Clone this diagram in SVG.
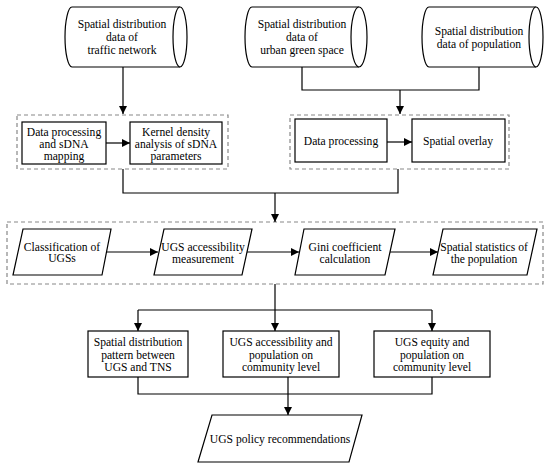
<svg xmlns="http://www.w3.org/2000/svg" width="550" height="470" viewBox="0 0 550 470">
<defs>
<marker id="ah" viewBox="0 0 10 10" refX="10" refY="5" markerWidth="8" markerHeight="8" markerUnits="userSpaceOnUse" orient="auto">
<path d="M0,0 L10,5 L0,10 z" fill="#000"/>
</marker>
<style>
.s{fill:#fff;stroke:#000;stroke-width:1.2}
.d{fill:none;stroke:#888;stroke-width:1.2;stroke-dasharray:4,3}
.c{fill:none;stroke:#000;stroke-width:1.2}
.a{fill:none;stroke:#000;stroke-width:1.2;marker-end:url(#ah)}
text{font-size:11.6px;fill:#000;text-anchor:middle}
</style>
</defs>
<rect width="550" height="470" fill="#fff"/>

<g id="dashed-groups">
<rect class="d" x="17" y="115" width="211" height="54"/>
<rect class="d" x="290" y="115" width="219" height="54"/>
<rect class="d" x="7" y="222" width="536" height="62"/>
</g>

<g id="connectors">
<path class="a" d="M123,67 V114"/>
<path class="c" d="M302,67 V90 H479 V67"/>
<path class="a" d="M400,90 V114"/>
<path class="a" d="M106,143 H130"/>
<path class="a" d="M387,142 H412"/>
<path class="c" d="M123,169 V193 H398 V169"/>
<path class="a" d="M275,193 V222"/>
<path class="a" d="M107,252 H158"/>
<path class="a" d="M247,252 H299"/>
<path class="a" d="M390,252 H438"/>
<path class="c" d="M275,284 V310"/>
<path class="c" d="M138,310 H432"/>
<path class="a" d="M138,310 V331"/>
<path class="a" d="M275,310 V331"/>
<path class="a" d="M432,310 V331"/>
<path class="c" d="M138,377 V394 H432 V377"/>
<path class="a" d="M288,377 V415"/>
</g>

<g font-family="Liberation Serif, Times New Roman, DejaVu Serif, serif">
<g id="cyl-traffic">
<path class="s" d="M180,7 H72 A7,30 0 0 0 72,67 H180"/>
<ellipse class="s" cx="180" cy="37" rx="7" ry="30"/>
<text x="122" y="28">Spatial distribution</text>
<text x="122" y="41">data of</text>
<text x="122" y="54">traffic network</text>
</g>

<g id="cyl-green">
<path class="s" d="M359,7 H252 A7,30 0 0 0 252,67 H359"/>
<ellipse class="s" cx="359" cy="37" rx="8" ry="30"/>
<text x="302" y="28">Spatial distribution</text>
<text x="302" y="41">data of</text>
<text x="302" y="54">urban green space</text>
</g>

<g id="cyl-pop">
<path class="s" d="M536,7 H429 A7,30 0 0 0 429,67 H536"/>
<ellipse class="s" cx="536" cy="37" rx="7" ry="30"/>
<text x="479" y="35">Spatial distribution</text>
<text x="479" y="47.5">data of population</text>
</g>

<g id="box-sdna">
<rect class="s" x="22" y="122" width="84" height="42"/>
<text x="64" y="136">Data processing</text>
<text x="64" y="148">and sDNA</text>
<text x="64" y="160">mapping</text>
</g>

<g id="box-kernel">
<rect class="s" x="130" y="122" width="92" height="42"/>
<text x="176" y="136">Kernel density</text>
<text x="176" y="148">analysis of sDNA</text>
<text x="176" y="160">parameters</text>
</g>

<g id="box-dataproc">
<rect class="s" x="295" y="119" width="92" height="43"/>
<text x="341" y="145">Data processing</text>
</g>

<g id="box-overlay">
<rect class="s" x="412" y="119" width="93" height="43"/>
<text x="458" y="145">Spatial overlay</text>
</g>

<g id="p-class">
<path class="s" d="M23,229 H111 L102,275 H13 z"/>
<text x="62" y="250.5">Classification of</text>
<text x="62" y="262">UGSs</text>
</g>

<g id="p-access">
<path class="s" d="M164,229 H252 L242,275 H154 z"/>
<text x="203" y="250.5">UGS accessibility</text>
<text x="203" y="263">measurement</text>
</g>

<g id="p-gini">
<path class="s" d="M304,229 H395 L385,275 H295 z"/>
<text x="345" y="250.5">Gini coefficient</text>
<text x="345" y="263">calculation</text>
</g>

<g id="p-stats">
<path class="s" d="M443,229 H537 L527,275 H433 z"/>
<text x="484" y="250.5">Spatial statistics of</text>
<text x="484" y="263">the population</text>
</g>

<g id="box-pattern">
<rect class="s" x="88" y="331" width="100" height="46"/>
<text x="138" y="346">Spatial distribution</text>
<text x="138" y="358.5">pattern between</text>
<text x="138" y="371">UGS and TNS</text>
</g>

<g id="box-accpop">
<rect class="s" x="223" y="331" width="116" height="46"/>
<text x="281" y="346">UGS accessibility and</text>
<text x="281" y="358.5">population on</text>
<text x="281" y="371">community level</text>
</g>

<g id="box-equity">
<rect class="s" x="374" y="331" width="116" height="46"/>
<text x="432" y="346">UGS equity and</text>
<text x="432" y="358.5">population on</text>
<text x="432" y="371">community level</text>
</g>

<g id="p-policy">
<path class="s" d="M212,415 H362 L349,462 H198 z"/>
<text x="280" y="443">UGS policy recommendations</text>
</g>
</g>
</svg>
